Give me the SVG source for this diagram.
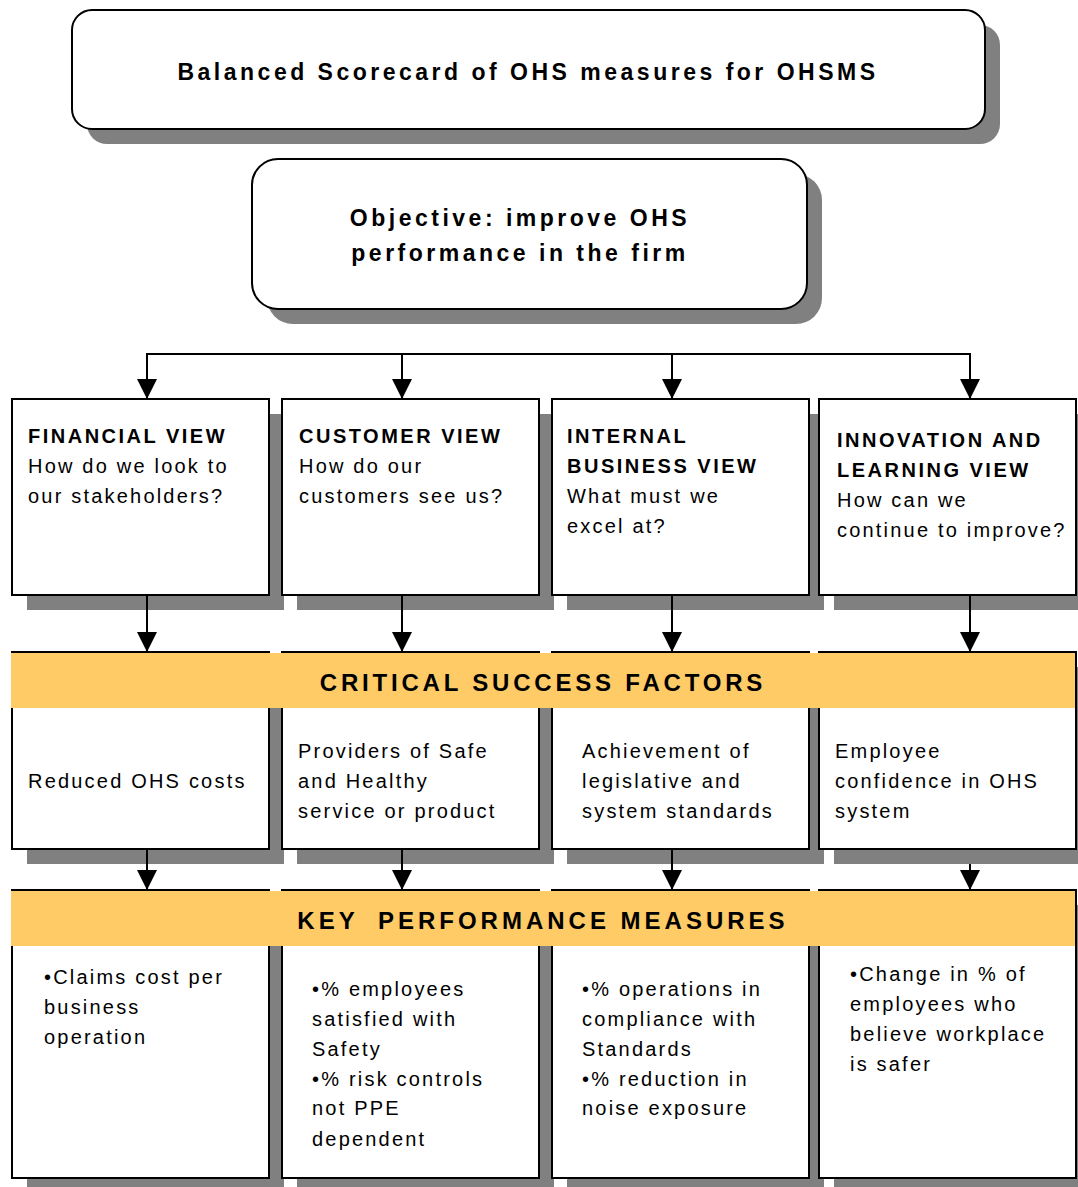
<svg xmlns="http://www.w3.org/2000/svg" width="1078" height="1187" viewBox="0 0 1078 1187">
  <defs>
    <marker id="arrow" markerUnits="userSpaceOnUse" markerWidth="22" markerHeight="20" refX="20" refY="10" orient="auto">
      <path d="M0,0 L20,10 L0,20 Z" fill="#000"/>
    </marker>
  </defs>
  <style>
    text { font-family: "Liberation Sans", Arial, sans-serif; fill: #000; }
    .title { font-size: 23px; font-weight: bold; letter-spacing: 3.5px; }
    .head { font-size: 20px; font-weight: bold; letter-spacing: 2.5px; }
    .body { font-size: 20px; letter-spacing: 2.2px; }
    .band { font-size: 24px; font-weight: bold; letter-spacing: 3.8px; }
    .shadow { fill: #808080; }
    .box { fill: #fff; stroke: #000; stroke-width: 2; }
    .banner { fill: #FECB66; }
    .conn { fill: none; stroke: #000; stroke-width: 2; }
  </style>
  <rect width="1078" height="1187" fill="#fff"/>

  <!-- title -->
  <g id="title">
    <rect class="shadow" x="87" y="25" width="913" height="119" rx="20"/>
    <rect class="box" x="72" y="10" width="913" height="119" rx="20"/>
    <text class="title" x="528" y="80" text-anchor="middle">Balanced Scorecard of OHS measures for OHSMS</text>
  </g>

  <!-- objective -->
  <g id="objective">
    <rect class="shadow" x="267" y="174" width="555" height="150" rx="26"/>
    <rect class="box" x="252" y="159" width="555" height="150" rx="26"/>
    <text class="title" x="520" y="226" text-anchor="middle">Objective: improve OHS</text>
    <text class="title" x="520" y="261" text-anchor="middle">performance in the firm</text>
  </g>

  <!-- shadows of the column boxes -->
  <g id="shadows">
    <rect class="shadow" x="27" y="414" width="257" height="196"/>
    <rect class="shadow" x="297" y="414" width="257" height="196"/>
    <rect class="shadow" x="567" y="414" width="257" height="196"/>
    <rect class="shadow" x="834" y="414" width="257" height="196"/>
    <rect class="shadow" x="27" y="667" width="257" height="197"/>
    <rect class="shadow" x="297" y="667" width="257" height="197"/>
    <rect class="shadow" x="567" y="667" width="257" height="197"/>
    <rect class="shadow" x="834" y="667" width="257" height="197"/>
    <rect class="shadow" x="27" y="905" width="257" height="288"/>
    <rect class="shadow" x="297" y="905" width="257" height="288"/>
    <rect class="shadow" x="567" y="905" width="257" height="288"/>
    <rect class="shadow" x="834" y="905" width="257" height="288"/>
  </g>

  <!-- connectors -->
  <g id="connectors">
    <path class="conn" d="M147,354 H970"/>
    <path class="conn" d="M147,353 V399" marker-end="url(#arrow)"/>
    <path class="conn" d="M402,354 V399" marker-end="url(#arrow)"/>
    <path class="conn" d="M672,354 V399" marker-end="url(#arrow)"/>
    <path class="conn" d="M970,353 V399" marker-end="url(#arrow)"/>
    <path class="conn" d="M147,595 V652" marker-end="url(#arrow)"/>
    <path class="conn" d="M402,595 V652" marker-end="url(#arrow)"/>
    <path class="conn" d="M672,595 V652" marker-end="url(#arrow)"/>
    <path class="conn" d="M970,595 V652" marker-end="url(#arrow)"/>
    <path class="conn" d="M147,849 V890" marker-end="url(#arrow)"/>
    <path class="conn" d="M402,849 V890" marker-end="url(#arrow)"/>
    <path class="conn" d="M672,849 V890" marker-end="url(#arrow)"/>
    <path class="conn" d="M970,864 V890" marker-end="url(#arrow)"/>
  </g>

  <!-- perspective boxes -->
  <g id="financial-view">
    <rect class="box" x="12" y="399" width="257" height="196"/>
    <text class="head" x="28" y="443">FINANCIAL VIEW</text>
    <text class="body" x="28" y="473">How do we look to</text>
    <text class="body" x="28" y="503">our stakeholders?</text>
  </g>
  <g id="customer-view">
    <rect class="box" x="282" y="399" width="257" height="196"/>
    <text class="head" x="299" y="443">CUSTOMER VIEW</text>
    <text class="body" x="299" y="473">How do our</text>
    <text class="body" x="299" y="503">customers see us?</text>
  </g>
  <g id="internal-business-view">
    <rect class="box" x="552" y="399" width="257" height="196"/>
    <text class="head" x="567" y="443">INTERNAL</text>
    <text class="head" x="567" y="473">BUSINESS VIEW</text>
    <text class="body" x="567" y="503">What must we</text>
    <text class="body" x="567" y="533">excel at?</text>
  </g>
  <g id="innovation-learning-view">
    <rect class="box" x="819" y="399" width="257" height="196"/>
    <text class="head" x="837" y="447">INNOVATION AND</text>
    <text class="head" x="837" y="477">LEARNING VIEW</text>
    <text class="body" x="837" y="507">How can we</text>
    <text class="body" x="837" y="537">continue to improve?</text>
  </g>

  <!-- critical success factors -->
  <g id="csf-financial">
    <rect class="box" x="12" y="652" width="257" height="197"/>
    <text class="body" x="28" y="788">Reduced OHS costs</text>
  </g>
  <g id="csf-customer">
    <rect class="box" x="282" y="652" width="257" height="197"/>
    <text class="body" x="298" y="758">Providers of Safe</text>
    <text class="body" x="298" y="788">and Healthy</text>
    <text class="body" x="298" y="818">service or product</text>
  </g>
  <g id="csf-internal">
    <rect class="box" x="552" y="652" width="257" height="197"/>
    <text class="body" x="582" y="758">Achievement of</text>
    <text class="body" x="582" y="788">legislative and</text>
    <text class="body" x="582" y="818">system standards</text>
  </g>
  <g id="csf-innovation">
    <rect class="box" x="819" y="652" width="257" height="197"/>
    <text class="body" x="835" y="758">Employee</text>
    <text class="body" x="835" y="788">confidence in OHS</text>
    <text class="body" x="835" y="818">system</text>
  </g>
  <g id="csf-banner">
    <rect class="banner" x="11" y="653" width="1064" height="55"/>
    <text class="band" x="543" y="691" text-anchor="middle">CRITICAL SUCCESS FACTORS</text>
  </g>

  <!-- key performance measures -->
  <g id="kpm-financial">
    <rect class="box" x="12" y="890" width="257" height="288"/>
    <text class="body" x="44" y="984">•Claims cost per</text>
    <text class="body" x="44" y="1014">business</text>
    <text class="body" x="44" y="1044">operation</text>
  </g>
  <g id="kpm-customer">
    <rect class="box" x="282" y="890" width="257" height="288"/>
    <text class="body" x="312" y="996">•% employees</text>
    <text class="body" x="312" y="1026">satisfied with</text>
    <text class="body" x="312" y="1056">Safety</text>
    <text class="body" x="312" y="1086">•% risk controls</text>
    <text class="body" x="312" y="1115">not PPE</text>
    <text class="body" x="312" y="1146">dependent</text>
  </g>
  <g id="kpm-internal">
    <rect class="box" x="552" y="890" width="257" height="288"/>
    <text class="body" x="582" y="996">•% operations in</text>
    <text class="body" x="582" y="1026">compliance with</text>
    <text class="body" x="582" y="1056">Standards</text>
    <text class="body" x="582" y="1086">•% reduction in</text>
    <text class="body" x="582" y="1115">noise exposure</text>
  </g>
  <g id="kpm-innovation">
    <rect class="box" x="819" y="890" width="257" height="288"/>
    <text class="body" x="850" y="981">•Change in % of</text>
    <text class="body" x="850" y="1011">employees who</text>
    <text class="body" x="850" y="1041">believe workplace</text>
    <text class="body" x="850" y="1071">is safer</text>
  </g>
  <g id="kpm-banner">
    <rect class="banner" x="11" y="891" width="1064" height="55"/>
    <text class="band" x="543" y="929" text-anchor="middle" style="letter-spacing:4px">KEY <tspan dx="9">PERFORMANCE MEASURES</tspan></text>
  </g>
</svg>
